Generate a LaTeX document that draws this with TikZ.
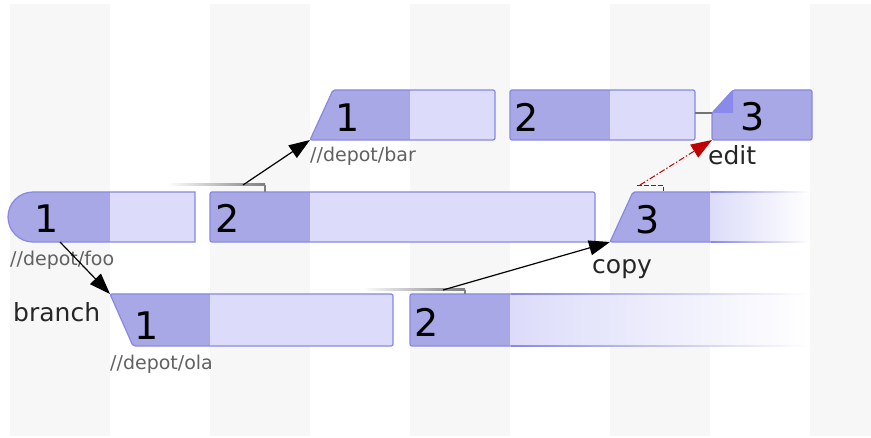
\documentclass[tikz,border=0pt]{standalone}
\usepackage{fontspec}
\setmainfont{DejaVu Sans}
\usetikzlibrary{arrows.meta}
\definecolor{darkf}{RGB}{168,168,230}
\definecolor{lightf}{RGB}{220,220,250}
\definecolor{bord}{RGB}{136,136,228}
\definecolor{foldc}{RGB}{138,138,236}
\definecolor{stripe}{RGB}{247,247,247}
\definecolor{redc}{RGB}{192,0,0}
\begin{document}
\begin{tikzpicture}[x=1pt,y=-1pt,
  num/.style={font=\fontsize{38}{40}\selectfont, anchor=base, inner sep=0pt, text=black},
  depotlbl/.style={font=\fontsize{19}{21}\selectfont, text=black!62, anchor=base west, inner sep=0pt},
  oplbl/.style={font=\fontsize{25}{28}\selectfont, text=black!85, anchor=base west, inner sep=0pt},
  outline/.style={draw=bord, line width=1.2pt},
  arr/.style={-{Triangle[length=21pt,width=15pt]}, line width=1.2pt, black},
  redarr/.style={-{Triangle[length=21pt,width=15pt]}, line width=1pt, redc, dash pattern=on 6pt off 2pt on 1.5pt off 2pt},
  trans/.style={black!50, line width=1.5pt},
]
% background
\fill[white] (0,0) rectangle (871,438);
\foreach \x in {10,210,410,610} \fill[stripe] (\x,4) rectangle ++(100,432);
\fill[stripe] (810,4) rectangle (871,436);
\useasboundingbox (0,0) rectangle (871,438);

% ---------- row 1: //depot/bar ----------
\begin{scope}
\clip (310,140) -- (333,90) -- (495,90) -- (495,140) -- cycle;
\fill[darkf] (300,85) rectangle (410,145);
\fill[lightf] (410,85) rectangle (500,145);
\end{scope}
\draw[outline, rounded corners=2] (310,140) -- (333,90) -- (495,90) -- (495,140) -- cycle;

\begin{scope}
\clip[rounded corners=2] (510,90) rectangle (695,140);
\fill[darkf] (505,85) rectangle (610,145);
\fill[lightf] (610,85) rectangle (700,145);
\end{scope}
\draw[outline, rounded corners=2] (510,90) rectangle (695,140);

\fill[darkf] (712,113) -- (733,90) -- (812,90) -- (812,140) -- (712,140) -- cycle;
\fill[foldc] (712,113) -- (733,91) -- (733,113) -- cycle;
\draw[outline, rounded corners=2] (712,113) -- (733,90) -- (812,90) -- (812,140) -- (712,140) -- cycle;

\coordinate (bar2r) at (695,113);
\coordinate (bar3l) at (712,113);
\draw[black!55, line width=2.5pt] (bar2r) -- (bar3l);

% ---------- row 2: //depot/foo ----------
\begin{scope}
\clip (33,192) -- (195,192) -- (195,242) -- (33,242) .. controls (19.2,242) and (8,230.8) .. (8,217) .. controls (8,203.2) and (19.2,192) .. (33,192) -- cycle;
\fill[darkf] (0,185) rectangle (110,250);
\fill[lightf] (110,185) rectangle (200,250);
\end{scope}
\draw[outline] (33,192) -- (195,192) -- (195,242) -- (33,242) .. controls (19.2,242) and (8,230.8) .. (8,217) .. controls (8,203.2) and (19.2,192) .. (33,192) -- cycle;

\begin{scope}
\clip[rounded corners=2] (210,192) rectangle (595,242);
\fill[darkf] (205,185) rectangle (310,250);
\fill[lightf] (310,185) rectangle (600,250);
\end{scope}
\draw[outline, rounded corners=2] (210,192) rectangle (595,242);

\begin{scope}
\clip (610,242) -- (633,192) -- (810,192) -- (810,242) -- cycle;
\fill[darkf] (600,185) rectangle (710,250);
\shade[left color=lightf, right color=white] (710,185) rectangle (810,250);
\end{scope}
\draw[outline, rounded corners=2] (712,192) -- (633,192) -- (610,242) -- (712,242);
\shade[left color=bord, right color=white] (711,191.4) rectangle (810,192.6);
\shade[left color=bord, right color=white] (711,241.4) rectangle (810,242.6);

% ---------- row 3: //depot/ola ----------
\begin{scope}
\clip (110,294) -- (393,294) -- (393,346) -- (133,346) -- cycle;
\fill[darkf] (100,290) rectangle (210,350);
\fill[lightf] (210,290) rectangle (400,350);
\end{scope}
\draw[outline, rounded corners=2] (110,294) -- (393,294) -- (393,346) -- (133,346) -- cycle;

\begin{scope}
\clip[rounded corners=2] (410,294) rectangle (810,346);
\fill[darkf] (405,290) rectangle (510,350);
\shade[left color=lightf, right color=white] (510,290) rectangle (810,350);
\end{scope}
\draw[outline, rounded corners=2] (512,294) -- (410,294) -- (410,346) -- (512,346);
\shade[left color=bord, right color=white] (511,293.4) rectangle (810,294.6);
\shade[left color=bord, right color=white] (511,345.4) rectangle (810,346.6);

% ---------- transition marks ----------
\shade[left color=white, right color=black!50] (167,184) rectangle (265,186);
\draw[trans] (265,185) -- (265,192);
\shade[left color=white, right color=black!50] (362,289) rectangle (465,291);
\draw[trans] (465,290) -- (465,294);
\draw[redc, line width=0.9pt, dash pattern=on 5pt off 2pt] (637,185) -- (663,185) -- (663,191);

% ---------- numbers ----------
\node[num] (n-foo1) at (47,233) {1};
\node[num] (n-foo2) at (228,233) {2};
\node[num] (n-foo3) at (648,234) {3};
\node[num] (n-bar1) at (348,132) {1};
\node[num] (n-bar2) at (527,132) {2};
\node[num] (n-bar3) at (753,131) {3};
\node[num] (n-ola1) at (147,340) {1};
\node[num] (n-ola2) at (427,337) {2};

% ---------- labels ----------
\node[depotlbl] (l-foo) at (10,266) {//depot/foo};
\node[depotlbl] (l-bar) at (310,162) {//depot/bar};
\node[depotlbl] (l-ola) at (110,370) {//depot/ola};
\node[oplbl] (l-branch) at (13,322) {branch};
\node[oplbl] (l-copy) at (592,274) {copy};
\node[oplbl] (l-edit) at (708,165) {edit};

% ---------- connectors ----------
\coordinate (foo1b) at (60,242);
\coordinate (ola1tl) at (110,294);
\coordinate (foo2t) at (243,185);
\coordinate (bar1bl) at (310,140);
\coordinate (ola2t) at (443,290);
\coordinate (foo3bl) at (610,242);
\coordinate (foo3t) at (640,185);
\coordinate (bar3bl) at (712,140);
\draw[arr] (foo1b) -- (ola1tl);
\draw[arr] (foo2t) -- (bar1bl);
\draw[arr] (ola2t) -- (foo3bl);
\draw[redarr] (foo3t) -- (bar3bl);
\end{tikzpicture}
\end{document}
